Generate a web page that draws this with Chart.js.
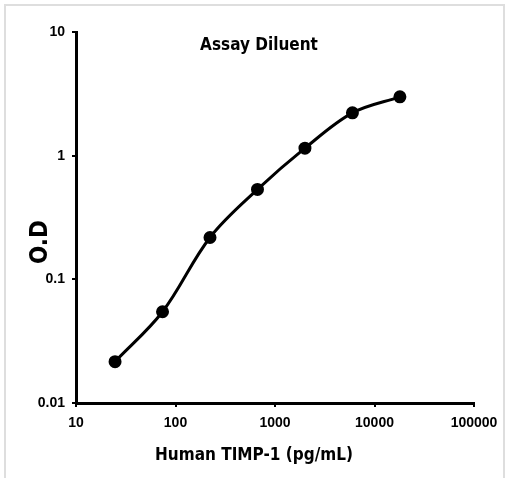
<!DOCTYPE html>
<html>
<head>
<meta charset="utf-8">
<script src="https://cdn.jsdelivr.net/npm/chart.js@4/dist/chart.umd.min.js"></script>
<style>
  html, body { margin: 0; padding: 0; background: #fff; overflow: hidden; }
  #wrap { position: relative; width: 506px; height: 478px; overflow: hidden; }
  #frame { position: absolute; left: 4px; top: 4px; width: 497px; height: 520px;
           border: 2px solid #dedede; border-bottom: none; pointer-events: none; }
  canvas { position: absolute; left: 0; top: 0; }
</style>
</head>
<body>
<div id="wrap">
  <canvas id="c" width="506" height="478"></canvas>
  <div id="frame"></div>
</div>
<script>
// Data
const concentrations = [24.69, 74.07, 222.2, 666.7, 2000, 6000, 18000];
const odValues = [0.0216, 0.0547, 0.218, 0.533, 1.15, 2.22, 2.99];
const xTickValues = [10, 100, 1000, 10000, 100000];
const yTickValues = [0.01, 0.1, 1, 10];
const chartTitle = 'Assay Diluent';
const xAxisTitle = 'Human TIMP-1 (pg/mL)';
const yAxisTitle = 'O.D';

const narrow = '"DejaVu Sans Condensed", "Liberation Sans", Arial, sans-serif';
const arial = '"Liberation Sans", Arial, sans-serif';

// Titles placed as in the reference (off-centre relative to the plot area)
const titles = {
  id: 'titles',
  afterDraw(chart) {
    const ctx = chart.ctx;
    const a = chart.chartArea;
    ctx.save();
    ctx.fillStyle = '#000';
    ctx.textAlign = 'center';
    ctx.textBaseline = 'middle';
    ctx.font = 'bold 17px ' + narrow;
    ctx.fillText(chartTitle, a.left + 183, a.top + 14);
    ctx.font = 'bold 17px ' + narrow;
    ctx.fillText(xAxisTitle, a.left + 178, a.bottom + 53);
    ctx.translate(a.left - 35, a.top + 210);
    ctx.rotate(-Math.PI / 2);
    ctx.font = 'bold 24px ' + narrow;
    ctx.fillText(yAxisTitle, 0, 0);
    ctx.restore();
  }
};

new Chart(document.getElementById('c'), {
  type: 'scatter',
  data: {
    datasets: [{
      data: concentrations.map((x, i) => ({ x: x, y: odValues[i] })),
      showLine: true,
      borderColor: '#000',
      backgroundColor: '#000',
      borderWidth: 3,
      pointRadius: 5,
      pointBackgroundColor: '#000',
      pointBorderColor: '#000',
      tension: 0.35
    }]
  },
  options: {
    responsive: false,
    animation: false,
    devicePixelRatio: 1,
    layout: { padding: { left: 10, top: 32, right: 32, bottom: 12 } },
    plugins: { legend: { display: false }, tooltip: { enabled: false } },
    scales: {
      x: {
        type: 'logarithmic',
        min: 10, max: 100000,
        afterBuildTicks: s => { s.ticks = xTickValues.map(v => ({ value: v })); },
        afterFit: s => { s.height = 63; },
        border: { color: '#000', width: 3 },
        grid: { drawOnChartArea: false, drawTicks: true, tickLength: 4, color: '#000', lineWidth: 2 },
        ticks: {
          color: '#000', padding: 8, maxRotation: 0, autoSkip: false,
          font: { family: arial, size: 14, weight: 'bold' },
          callback: v => String(v)
        },
        title: { display: false, text: xAxisTitle }
      },
      y: {
        type: 'logarithmic',
        min: 0.01, max: 10,
        afterBuildTicks: s => { s.ticks = yTickValues.map(v => ({ value: v })); },
        afterFit: s => { s.width = 66; },
        border: { color: '#000', width: 3 },
        grid: { drawOnChartArea: false, drawTicks: true, tickLength: 4, color: '#000', lineWidth: 2 },
        ticks: {
          color: '#000', padding: 7, autoSkip: false,
          font: { family: arial, size: 14, weight: 'bold' },
          callback: v => String(v)
        },
        title: { display: false, text: yAxisTitle }
      }
    }
  },
  plugins: [titles]
});
</script>
</body>
</html>
